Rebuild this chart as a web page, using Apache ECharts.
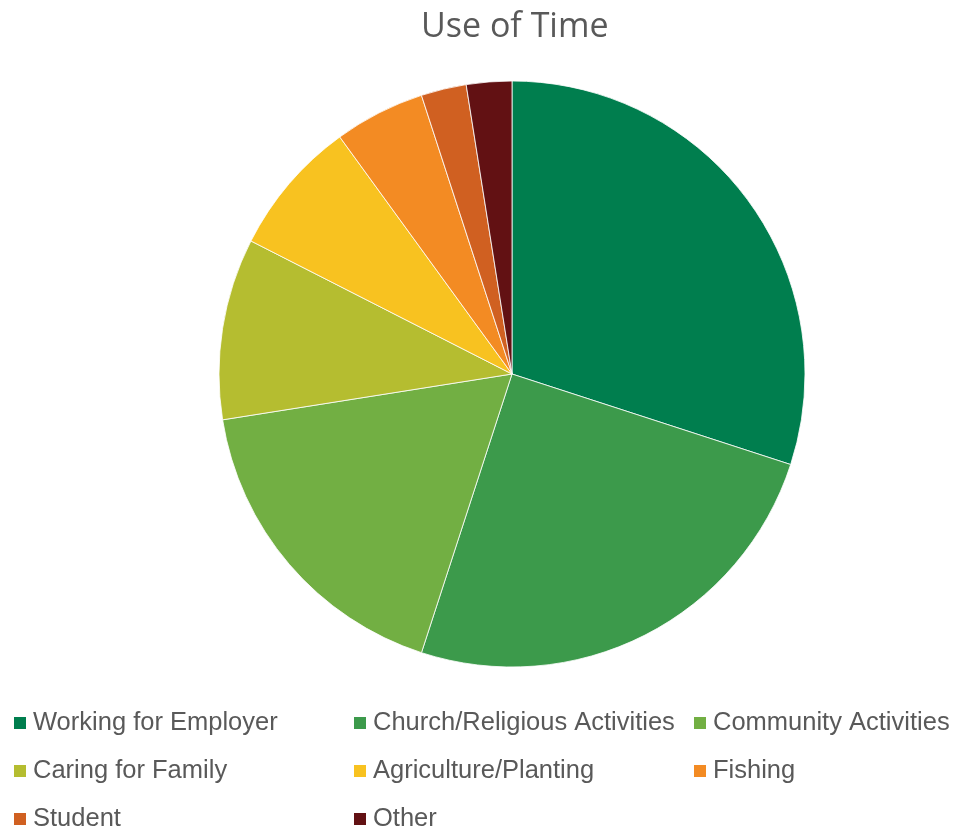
<!DOCTYPE html>
<html>
<head>
<meta charset="utf-8">
<script src="https://cdn.jsdelivr.net/npm/echarts@6/dist/echarts.min.js"></script>
<style>
  html, body { margin: 0; padding: 0; background: #ffffff; }
  #chart { width: 963px; height: 828px; }
</style>
</head>
<body>
<div id="chart"></div>
<script>
// Activity categories and counts, in pie order (clockwise from 12 o'clock)
const categories = [
  'Working for Employer',
  'Church/Religious Activities',
  'Community Activities',
  'Caring for Family',
  'Agriculture/Planting',
  'Fishing',
  'Student',
  'Other'
];
const counts = [12, 10, 7, 4, 3, 2, 1, 1];
const colors = ['#007E4E', '#3C9A4B', '#72AF43', '#B5BD30', '#F8C220', '#F38B23', '#D06021', '#621113'];

// Legend grid: three columns, filled row by row
const legendColumnsX = [12, 352, 692];
const legendRowsY = [720, 768, 816];

const chart = echarts.init(document.getElementById('chart'), null, { renderer: 'canvas' });

const legends = categories.map((name, i) => ({
  orient: 'horizontal',
  left: legendColumnsX[i % 3],
  top: legendRowsY[Math.floor(i / 3)] - 10,
  padding: 0,
  data: [name],
  icon: 'rect',
  itemWidth: 14,
  itemHeight: 14,
  selectedMode: false,
  textStyle: {
    fontFamily: '"Liberation Sans Narrow", "Liberation Sans", sans-serif',
    fontSize: 25.5,
    color: '#595959',
    padding: [0, 0, 0, 1]
  }
}));

chart.setOption({
  animation: false,
  color: colors,
  title: {
    text: 'Use of Time',
    left: 416,
    top: 5,
    textStyle: {
      fontFamily: '"Open Sans", sans-serif',
      fontSize: 34,
      fontWeight: 'normal',
      color: '#595959'
    }
  },
  legend: legends,
  series: [{
    type: 'pie',
    center: [512, 374],
    radius: 293,
    startAngle: 90,
    clockwise: true,
    label: { show: false },
    labelLine: { show: false },
    itemStyle: { borderColor: '#ffffff', borderWidth: 0.8 },
    emphasis: { disabled: true },
    data: categories.map((name, i) => ({ name: name, value: counts[i] }))
  }]
});
</script>
</body>
</html>
